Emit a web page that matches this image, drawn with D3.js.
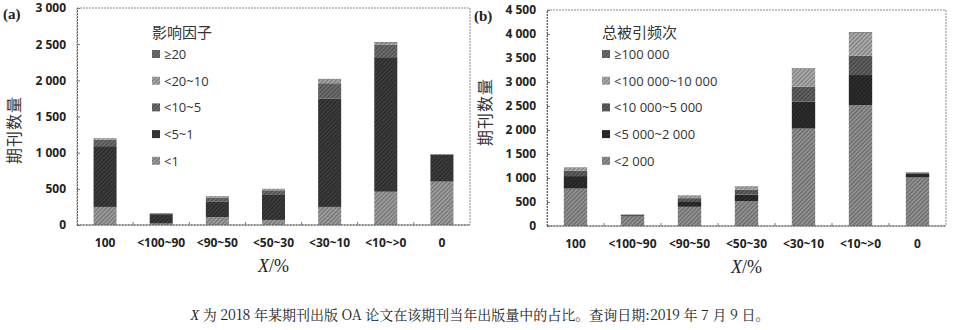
<!DOCTYPE html>
<html><head><meta charset="utf-8">
<script src="https://cdn.jsdelivr.net/npm/d3@7"></script>
<style>body{margin:0;background:#fff}svg{display:block}</style>
</head><body><svg id="c" width="953" height="330"></svg>
<script>
// ---- data ----
const categories = ["100","<100~90","<90~50","<50~30","<30~10","<10~>0","0"];
// Panel (a): impact factor groups (bottom to top)
const ifKeys = ["<1","<5~1","<10~5","<20~10","≥20"];
const ifLt1     = [250, 20, 110, 70, 250, 460, 600];
const if1to5    = [840, 130, 210, 345, 1500, 1860, 370];
const if5to10   = [90, 10, 60, 65, 210, 170, 8];
const if10to20  = [15, 3, 15, 15, 50, 30, 3];
const ifGe20    = [5, 2, 5, 5, 10, 10, 1];
const yTicksA = [0, 500, 1000, 1500, 2000, 2500, 3000];
// Panel (b): total citation groups (bottom to top)
const citKeys = ["<2 000","<5 000~2 000","<10 000~5 000","<100 000~10 000","≥100 000"];
const citLt2k     = [780, 200, 400, 515, 2030, 2520, 1010];
const cit2kto5k   = [260, 25, 100, 140, 560, 625, 85];
const cit5kto10k  = [110, 10, 80, 100, 310, 400, 15];
const cit10kto100k= [60, 5, 55, 70, 380, 480, 12];
const citGe100k   = [10, 3, 5, 5, 10, 15, 3];
const yTicksB = [0, 500, 1000, 1500, 2000, 2500, 3000, 3500, 4000, 4500];

const svg = d3.select("#c");
const defs = svg.append("defs");
function pat(id, base, line){
  const p = defs.append("pattern").attr("id", id).attr("patternUnits","userSpaceOnUse")
    .attr("width",3).attr("height",3).attr("patternTransform","rotate(45)");
  p.append("rect").attr("width",3).attr("height",3).attr("fill",base);
  p.append("rect").attr("width",1).attr("height",3).attr("fill",line);
}
const colA = ["#9a9a9a","#3a3a3a","#6a6a6a","#a4a4a4","#6e6e6e"];
const colB = ["#8e8e8e","#2c2c2c","#5e5e5e","#a8a8a8","#6c6c6c"];
colA.forEach((c,i)=>pat("pa"+i, c, d3.color(c).darker(0.9)));
colB.forEach((c,i)=>pat("pb"+i, c, d3.color(c).darker(0.9)));

const fmt = d3.formatLocale({decimal:".", thousands:" ", grouping:[3], currency:["",""]}).format(",d");

function panel(o){
  const g = svg.append("g");
  const x = d3.scaleBand().domain(categories).range([o.x0, o.x1]).paddingInner(0.59).paddingOuter(0.295);
  const y = d3.scaleLinear().domain([0, o.max]).range([o.y0, o.y1]);
  const rows = categories.map((c,i)=>{const r={cat:c}; o.keys.forEach((k,j)=>r[k]=o.series[j][i]); return r;});
  const stacked = d3.stack().keys(o.keys)(rows);
  // frame
  g.append("rect").attr("x",o.x0).attr("y",o.y1).attr("width",o.x1-o.x0).attr("height",o.y0-o.y1)
    .attr("fill","none").attr("stroke","#8a8a8a").attr("stroke-width",1).attr("stroke-dasharray","2,1");
  // bars
  stacked.forEach((s,j)=>{
    g.append("g").selectAll("rect").data(s).join("rect")
      .attr("x",d=>x(d.data.cat)).attr("width",x.bandwidth())
      .attr("y",d=>y(d[1])).attr("height",d=>Math.max(0,y(d[0])-y(d[1])))
      .attr("fill",`url(#${o.pid}${j})`);
  });
  // y axis
  const ya = d3.axisLeft(y).tickValues(o.ticks).tickFormat(fmt).tickSize(-3).tickPadding(11);
  const yg = g.append("g").attr("transform",`translate(${o.x0},0)`).call(ya);
  yg.select(".domain").attr("stroke","#666").attr("stroke-dasharray","2,1");
  yg.selectAll(".tick line").attr("stroke","#777");
  yg.selectAll("text").attr("font-family","'Open Sans',sans-serif").attr("font-weight","bold")
    .attr("font-size",12).attr("fill","#222");
  // x axis
  g.append("line").attr("x1",o.x0).attr("x2",o.x1).attr("y1",o.y0).attr("y2",o.y0)
    .attr("stroke","#555").attr("stroke-dasharray","2,1");
  g.append("g").selectAll("line").data(d3.range(1,categories.length)).join("line")
    .attr("x1",i=>o.x0+i*x.step()).attr("x2",i=>o.x0+i*x.step())
    .attr("y1",o.y0).attr("y2",o.y0-3).attr("stroke","#777");
  g.append("g").selectAll("text").data(categories).join("text")
    .attr("x",c=>x(c)+x.bandwidth()/2).attr("y",o.y0+22).attr("text-anchor","middle")
    .attr("font-family","'Open Sans',sans-serif").attr("font-weight","bold").attr("font-size",12)
    .attr("fill","#222").text(c=>c);
  // x title
  const xt = g.append("text").attr("x",(o.x0+o.x1)/2).attr("y",o.y0+47).attr("text-anchor","middle")
    .attr("font-family","'Liberation Serif',serif").attr("font-size",18).attr("fill","#222");
  xt.append("tspan").attr("font-style","italic").text("X");
  xt.append("tspan").text("/%");
  // y title
  g.append("text").attr("transform",`translate(${o.ytx},${o.yty}) rotate(-90)`).attr("text-anchor","middle")
    .attr("font-family","'Noto Sans CJK SC',sans-serif").attr("font-size",16).attr("fill","#333")
    .attr("letter-spacing",1).text("期刊数量");
  // panel label
  g.append("text").attr("x",o.lx).attr("y",o.ly).attr("font-family","'Liberation Serif',serif")
    .attr("font-weight","bold").attr("font-size",15).attr("fill","#222").text(o.label);
  // legend
  g.append("text").attr("x",o.legx).attr("y",38).attr("font-family","'Noto Sans CJK SC',sans-serif")
    .attr("font-size",15).attr("fill","#333").text(o.title);
  const items = o.keys.map((k,j)=>({k,j})).reverse();
  const lg = g.append("g").selectAll("g").data(items).join("g")
    .attr("transform",(d,i)=>`translate(${o.legx},${54+i*26.7})`);
  lg.append("rect").attr("x",0).attr("y",-4).attr("width",8).attr("height",8).attr("fill",d=>`url(#${o.pid}${d.j})`);
  lg.append("text").attr("x",12).attr("y",5).attr("font-family","'Open Sans',sans-serif")
    .attr("font-size",13).attr("fill","#333").text(d=>d.k);
}

panel({x0:77, x1:470, y0:225, y1:8, max:3000, ticks:yTicksA, keys:ifKeys,
  series:[ifLt1,if1to5,if5to10,if10to20,ifGe20], pid:"pa", ytx:20, yty:130,
  lx:3, ly:19, label:"(a)", legx:152, title:"影响因子"});
panel({x0:547, x1:946, y0:226, y1:10, max:4500, ticks:yTicksB, keys:citKeys,
  series:[citLt2k,cit2kto5k,cit5kto10k,cit10kto100k,citGe100k], pid:"pb", ytx:491, yty:112,
  lx:474, ly:21, label:"(b)", legx:602, title:"总被引频次"});

// caption
const cap = svg.append("text").attr("x",480).attr("y",320).attr("text-anchor","middle")
  .attr("font-family","'Noto Serif CJK SC','Liberation Serif',serif").attr("font-size",14).attr("fill","#222");
cap.append("tspan").attr("font-style","italic").attr("font-family","'Liberation Serif',serif").text("X");
cap.append("tspan").text(" 为 2018 年某期刊出版 OA 论文在该期刊当年出版量中的占比。查询日期:2019 年 7 月 9 日。");
</script></body></html>
